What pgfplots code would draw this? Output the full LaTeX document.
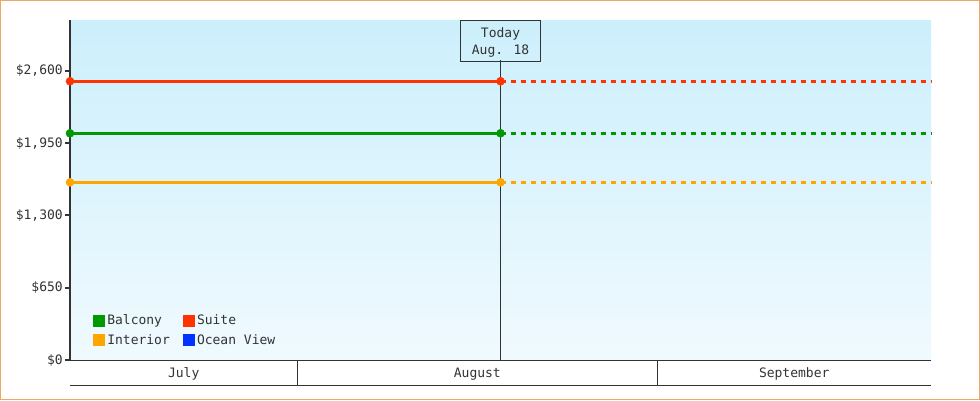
\documentclass[border=0pt]{standalone}
\usepackage{pgfplots}
\pgfplotsset{compat=1.18}
\usepackage{fontspec}
\setmainfont{DejaVu Sans Mono}
\definecolor{suite}{HTML}{FF3300}
\definecolor{balcony}{HTML}{009900}
\definecolor{interior}{HTML}{FFA500}
\definecolor{ocean}{HTML}{0033FF}
\definecolor{dark}{HTML}{333333}
\definecolor{bgtop}{HTML}{CCEFFC}
\definecolor{bgbot}{HTML}{F0FAFE}
\definecolor{border}{HTML}{EEA866}
\pgfplotstableread{
x y
11.42 2505
48.5 2505
}\suitesolid
\pgfplotstableread{
x y
48.5 2505
85.57 2505
}\suitedash
\pgfplotstableread{
x y
11.42 2038
48.5 2038
}\balcsolid
\pgfplotstableread{
x y
48.5 2038
85.57 2038
}\balcdash
\pgfplotstableread{
x y
11.42 1598
48.5 1598
}\intsolid
\pgfplotstableread{
x y
48.5 1598
85.57 1598
}\intdash
\begin{document}
\begin{tikzpicture}[x=1pt,y=1pt]
\draw[border, line width=1pt] (0.5,0.5) rectangle (979.5,399.5);
\begin{axis}[
  at={(70pt,39.7pt)}, anchor=south west,
  scale only axis, width=861pt, height=340.3pt,
  xmin=11.42, xmax=85.57, ymin=0, ymax=3055,
  axis x line*=bottom, axis y line*=left,
  axis line style={-},
  x axis line style={line width=1pt, dark},
  y axis line style={line width=2pt, dark},
  xtick=\empty,
  ytick={0,650,1300,1950,2600},
  yticklabels={\$0,\$650,{\$1,300},{\$1,950},{\$2,600}},
  tick align=outside, major tick length=5pt,
  ytick style={line width=2pt, dark},
  yticklabel style={font=\fontsize{13}{13}\selectfont, text=dark, inner sep=2pt},
  axis background/.style={shade, top color=bgtop, bottom color=bgbot},
  clip=false,
  legend columns=2,
  legend image code/.code={\fill (0pt,-5.5pt) rectangle (11pt,5.5pt);},
  legend style={at={(axis description cs:0.0267,0.042)}, anchor=south west,
    draw=none, fill=none, inner sep=0pt, row sep=8pt,
    font=\fontsize{13}{13}\selectfont, text=dark,
    nodes={inner sep=0pt},
    /tikz/every odd column/.append style={column sep=2.7pt},
    /tikz/every even column/.append style={column sep=13pt}},
  legend cell align=left,
]
\draw[dark, line width=1pt] (axis cs:48.5,0) -- (axis cs:48.5,2700);
\node[draw=dark, line width=1pt, minimum width=80pt, minimum height=40.7pt,
  anchor=north, inner sep=0pt] (today) at (axis cs:48.5,3055) {};
\node[align=center, font=\fontsize{13}{17}\selectfont, text=dark, inner sep=0pt]
  at ([yshift=-1.5pt]today.center) {Today\\Aug. 18};
\addplot[suite, line width=3pt, mark=*, mark size=4pt, mark options={line width=0.5pt}, forget plot] table {\suitesolid};
\addplot[suite, line width=3pt, dash pattern=on 5pt off 5pt, dash phase=0pt, forget plot] table {\suitedash};
\addplot[balcony, line width=3pt, mark=*, mark size=4pt, mark options={line width=0.5pt}, forget plot] table {\balcsolid};
\addplot[balcony, line width=3pt, dash pattern=on 5pt off 5pt, dash phase=0pt, forget plot] table {\balcdash};
\addplot[interior, line width=3pt, mark=*, mark size=4pt, mark options={line width=0.5pt}, forget plot] table {\intsolid};
\addplot[interior, line width=3pt, dash pattern=on 5pt off 5pt, dash phase=0pt, forget plot] table {\intdash};
\addlegendimage{balcony}\addlegendentry{Balcony}
\addlegendimage{suite}\addlegendentry{Suite}
\addlegendimage{interior}\addlegendentry{Interior}
\addlegendimage{ocean}\addlegendentry{Ocean View}
% month strip
\draw[dark, line width=1pt] ([yshift=-24.7pt]axis cs:11.42,0) -- ([yshift=-24.7pt]axis cs:85.57,0);
\draw[dark, line width=1pt] (axis cs:31,0) -- ([yshift=-24.7pt]axis cs:31,0);
\draw[dark, line width=1pt] (axis cs:62,0) -- ([yshift=-24.7pt]axis cs:62,0);
\node[font=\fontsize{13}{13}\selectfont, text=dark] at ([yshift=-13.5pt]axis cs:21.21,0) {July};
\node[font=\fontsize{13}{13}\selectfont, text=dark] at ([yshift=-13.5pt]axis cs:46.5,0) {August};
\node[font=\fontsize{13}{13}\selectfont, text=dark] at ([yshift=-13.5pt]axis cs:73.79,0) {September};
\end{axis}
\end{tikzpicture}
\end{document}
